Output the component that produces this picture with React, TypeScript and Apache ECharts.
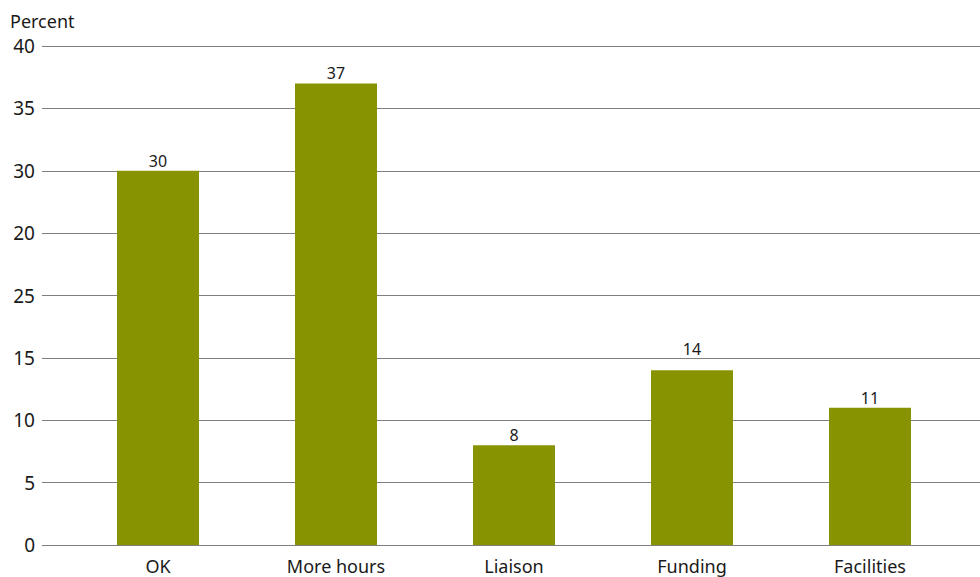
import React, { useEffect, useRef } from "react";
import * as echarts from "echarts";

const categories = ["OK", "More hours", "Liaison", "Funding", "Facilities"];
const values = [30, 37, 8, 14, 11];
const yTickLabels = ["0", "5", "10", "15", "25", "20", "30", "35", "40"];
const yAxisTitle = "Percent";

const FONT = "'Noto Sans', 'Open Sans', sans-serif";
const BAR = "#879300";
const GRID_LINE = "#7f7f7f";

export default function App() {
  const ref = useRef<HTMLDivElement>(null);
  useEffect(() => {
    if (!ref.current) return;
    const chart = echarts.init(ref.current, undefined, { renderer: "svg" });
    const top = 46;
    const bottom = 32;
    chart.setOption({
      animation: false,
      textStyle: { fontFamily: FONT },
      graphic: [
        {
          type: "text",
          left: 10,
          top: 12,
          style: { text: yAxisTitle, fontFamily: FONT, fontSize: 18, fill: "#1a1a1a" },
        },
      ],
      grid: [
        { left: 42, right: 0, top, bottom, containLabel: false },
        { left: 69, right: 21, top, bottom, containLabel: false },
      ],
      xAxis: [
        {
          type: "category",
          gridIndex: 0,
          data: categories,
          show: false,
        },
        {
          type: "category",
          gridIndex: 1,
          data: categories,
          axisLine: { show: false },
          axisTick: { show: false },
          axisLabel: { color: "#1a1a1a", fontSize: 18, margin: 12, fontFamily: FONT },
        },
      ],
      yAxis: [
        {
          type: "value",
          gridIndex: 0,
          min: 0,
          max: 40,
          interval: 5,
          axisLine: { show: false },
          axisTick: { show: false },
          splitLine: { show: true, lineStyle: { color: GRID_LINE, width: 1 } },
          axisLabel: {
            color: "#1a1a1a",
            fontSize: 19,
            margin: 7,
            fontFamily: FONT,
            formatter: (v: number) => yTickLabels[Math.round(v / 5)] ?? String(v),
          },
        },
        {
          type: "value",
          gridIndex: 1,
          min: 0,
          max: 40,
          interval: 5,
          show: false,
          splitLine: { show: false },
        },
      ],
      series: [
        {
          type: "bar",
          xAxisIndex: 1,
          yAxisIndex: 1,
          barWidth: 82,
          itemStyle: { color: BAR },
          label: {
            show: true,
            position: "top",
            distance: 2,
            color: "#1a1a1a",
            fontSize: 16,
            fontFamily: FONT,
          },
          data: values.map((v, i) =>
            i === 3 ? { value: v, label: { distance: 13 } } : v
          ),
        },
      ],
    });
    return () => chart.dispose();
  }, []);
  return <div ref={ref} style={{ width: 980, height: 577, position: "absolute", left: 0, top: 0 }} />;
}
